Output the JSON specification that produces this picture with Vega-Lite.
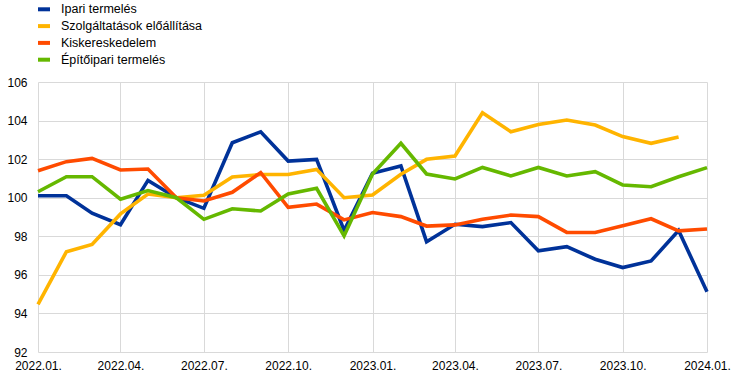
{
  "$schema": "https://vega.github.io/schema/vega-lite/v6.json",
  "width": 669,
  "height": 270,
  "autosize": "none",
  "padding": {"left": 38, "top": 82, "right": 37, "bottom": 25},
  "background": "white",
  "config": {
    "view": {"stroke": null},
    "font": "Liberation Sans",
    "axis": {"labelFont": "Liberation Sans", "labelFontSize": 12, "labelColor": "#000000", "gridColor": "#d9d9d9", "gridWidth": 1, "domain": false, "ticks": false}
  },
  "data": {
    "values": [
      {"date": "2022-01-01", "series": "Ipari termelés", "value": 100.1},
      {"date": "2022-02-01", "series": "Ipari termelés", "value": 100.1},
      {"date": "2022-03-01", "series": "Ipari termelés", "value": 99.2},
      {"date": "2022-04-01", "series": "Ipari termelés", "value": 98.6},
      {"date": "2022-05-01", "series": "Ipari termelés", "value": 100.9},
      {"date": "2022-06-01", "series": "Ipari termelés", "value": 100.0},
      {"date": "2022-07-01", "series": "Ipari termelés", "value": 99.45},
      {"date": "2022-08-01", "series": "Ipari termelés", "value": 102.85},
      {"date": "2022-09-01", "series": "Ipari termelés", "value": 103.42},
      {"date": "2022-10-01", "series": "Ipari termelés", "value": 101.9},
      {"date": "2022-11-01", "series": "Ipari termelés", "value": 101.99},
      {"date": "2022-12-01", "series": "Ipari termelés", "value": 98.3},
      {"date": "2023-01-01", "series": "Ipari termelés", "value": 101.27},
      {"date": "2023-02-01", "series": "Ipari termelés", "value": 101.65},
      {"date": "2023-03-01", "series": "Ipari termelés", "value": 97.72},
      {"date": "2023-04-01", "series": "Ipari termelés", "value": 98.62},
      {"date": "2023-05-01", "series": "Ipari termelés", "value": 98.5},
      {"date": "2023-06-01", "series": "Ipari termelés", "value": 98.71},
      {"date": "2023-07-01", "series": "Ipari termelés", "value": 97.25},
      {"date": "2023-08-01", "series": "Ipari termelés", "value": 97.46},
      {"date": "2023-09-01", "series": "Ipari termelés", "value": 96.81},
      {"date": "2023-10-01", "series": "Ipari termelés", "value": 96.38},
      {"date": "2023-11-01", "series": "Ipari termelés", "value": 96.72},
      {"date": "2023-12-01", "series": "Ipari termelés", "value": 98.3},
      {"date": "2024-01-01", "series": "Ipari termelés", "value": 95.13},

      {"date": "2022-01-01", "series": "Szolgáltatások előállítása", "value": 94.47},
      {"date": "2022-02-01", "series": "Szolgáltatások előállítása", "value": 97.2},
      {"date": "2022-03-01", "series": "Szolgáltatások előállítása", "value": 97.58},
      {"date": "2022-04-01", "series": "Szolgáltatások előállítása", "value": 99.16},
      {"date": "2022-05-01", "series": "Szolgáltatások előállítása", "value": 100.19},
      {"date": "2022-06-01", "series": "Szolgáltatások előállítása", "value": 100.0},
      {"date": "2022-07-01", "series": "Szolgáltatások előállítása", "value": 100.13},
      {"date": "2022-08-01", "series": "Szolgáltatások előállítása", "value": 101.08},
      {"date": "2022-09-01", "series": "Szolgáltatások előállítása", "value": 101.2},
      {"date": "2022-10-01", "series": "Szolgáltatások előállítása", "value": 101.2},
      {"date": "2022-11-01", "series": "Szolgáltatások előállítása", "value": 101.47},
      {"date": "2022-12-01", "series": "Szolgáltatások előállítása", "value": 100.0},
      {"date": "2023-01-01", "series": "Szolgáltatások előállítása", "value": 100.14},
      {"date": "2023-02-01", "series": "Szolgáltatások előállítása", "value": 101.22},
      {"date": "2023-03-01", "series": "Szolgáltatások előállítása", "value": 101.99},
      {"date": "2023-04-01", "series": "Szolgáltatások előállítása", "value": 102.16},
      {"date": "2023-05-01", "series": "Szolgáltatások előállítása", "value": 104.41},
      {"date": "2023-06-01", "series": "Szolgáltatások előállítása", "value": 103.42},
      {"date": "2023-07-01", "series": "Szolgáltatások előállítása", "value": 103.8},
      {"date": "2023-08-01", "series": "Szolgáltatások előállítása", "value": 104.03},
      {"date": "2023-09-01", "series": "Szolgáltatások előállítása", "value": 103.77},
      {"date": "2023-10-01", "series": "Szolgáltatások előállítása", "value": 103.17},
      {"date": "2023-11-01", "series": "Szolgáltatások előállítása", "value": 102.82},
      {"date": "2023-12-01", "series": "Szolgáltatások előállítása", "value": 103.15},

      {"date": "2022-01-01", "series": "Kiskereskedelem", "value": 101.4},
      {"date": "2022-02-01", "series": "Kiskereskedelem", "value": 101.87},
      {"date": "2022-03-01", "series": "Kiskereskedelem", "value": 102.04},
      {"date": "2022-04-01", "series": "Kiskereskedelem", "value": 101.44},
      {"date": "2022-05-01", "series": "Kiskereskedelem", "value": 101.49},
      {"date": "2022-06-01", "series": "Kiskereskedelem", "value": 100.0},
      {"date": "2022-07-01", "series": "Kiskereskedelem", "value": 99.83},
      {"date": "2022-08-01", "series": "Kiskereskedelem", "value": 100.28},
      {"date": "2022-09-01", "series": "Kiskereskedelem", "value": 101.3},
      {"date": "2022-10-01", "series": "Kiskereskedelem", "value": 99.5},
      {"date": "2022-11-01", "series": "Kiskereskedelem", "value": 99.67},
      {"date": "2022-12-01", "series": "Kiskereskedelem", "value": 98.85},
      {"date": "2023-01-01", "series": "Kiskereskedelem", "value": 99.23},
      {"date": "2023-02-01", "series": "Kiskereskedelem", "value": 99.02},
      {"date": "2023-03-01", "series": "Kiskereskedelem", "value": 98.53},
      {"date": "2023-04-01", "series": "Kiskereskedelem", "value": 98.59},
      {"date": "2023-05-01", "series": "Kiskereskedelem", "value": 98.88},
      {"date": "2023-06-01", "series": "Kiskereskedelem", "value": 99.1},
      {"date": "2023-07-01", "series": "Kiskereskedelem", "value": 99.02},
      {"date": "2023-08-01", "series": "Kiskereskedelem", "value": 98.2},
      {"date": "2023-09-01", "series": "Kiskereskedelem", "value": 98.2},
      {"date": "2023-10-01", "series": "Kiskereskedelem", "value": 98.54},
      {"date": "2023-11-01", "series": "Kiskereskedelem", "value": 98.91},
      {"date": "2023-12-01", "series": "Kiskereskedelem", "value": 98.28},
      {"date": "2024-01-01", "series": "Kiskereskedelem", "value": 98.38},

      {"date": "2022-01-01", "series": "Építőipari termelés", "value": 100.31},
      {"date": "2022-02-01", "series": "Építőipari termelés", "value": 101.09},
      {"date": "2022-03-01", "series": "Építőipari termelés", "value": 101.09},
      {"date": "2022-04-01", "series": "Építőipari termelés", "value": 99.92},
      {"date": "2022-05-01", "series": "Építőipari termelés", "value": 100.37},
      {"date": "2022-06-01", "series": "Építőipari termelés", "value": 100.0},
      {"date": "2022-07-01", "series": "Építőipari termelés", "value": 98.88},
      {"date": "2022-08-01", "series": "Építőipari termelés", "value": 99.43},
      {"date": "2022-09-01", "series": "Építőipari termelés", "value": 99.31},
      {"date": "2022-10-01", "series": "Építőipari termelés", "value": 100.19},
      {"date": "2022-11-01", "series": "Építőipari termelés", "value": 100.49},
      {"date": "2022-12-01", "series": "Építőipari termelés", "value": 98.02},
      {"date": "2023-01-01", "series": "Építőipari termelés", "value": 101.23},
      {"date": "2023-02-01", "series": "Építőipari termelés", "value": 102.82},
      {"date": "2023-03-01", "series": "Építőipari termelés", "value": 101.23},
      {"date": "2023-04-01", "series": "Építőipari termelés", "value": 100.97},
      {"date": "2023-05-01", "series": "Építőipari termelés", "value": 101.57},
      {"date": "2023-06-01", "series": "Építőipari termelés", "value": 101.13},
      {"date": "2023-07-01", "series": "Építőipari termelés", "value": 101.57},
      {"date": "2023-08-01", "series": "Építőipari termelés", "value": 101.13},
      {"date": "2023-09-01", "series": "Építőipari termelés", "value": 101.35},
      {"date": "2023-10-01", "series": "Építőipari termelés", "value": 100.66},
      {"date": "2023-11-01", "series": "Építőipari termelés", "value": 100.57},
      {"date": "2023-12-01", "series": "Építőipari termelés", "value": 101.09},
      {"date": "2024-01-01", "series": "Építőipari termelés", "value": 101.56}
    ]
  },
  "mark": {"type": "line", "strokeWidth": 3.6, "strokeJoin": "miter", "strokeCap": "butt"},
  "encoding": {
    "x": {
      "field": "date",
      "timeUnit": "utcyearmonth",
      "type": "temporal",
      "scale": {"domain": [{"year": 2022, "month": 1, "date": 1, "utc": true}, {"year": 2024, "month": 1, "date": 1, "utc": true}], "nice": false},
      "axis": {"title": null, "format": "%Y.%m.", "tickCount": {"interval": "month", "step": 3}, "labelPadding": 8, "labelFlush": false, "labelOverlap": false, "labelAlign": "center"}
    },
    "y": {
      "field": "value",
      "type": "quantitative",
      "scale": {"domain": [92, 106], "nice": false, "zero": false},
      "axis": {"title": null, "values": [92, 94, 96, 98, 100, 102, 104, 106], "labelPadding": 11}
    },
    "color": {
      "field": "series",
      "type": "nominal",
      "sort": null,
      "scale": {
        "domain": ["Ipari termelés", "Szolgáltatások előállítása", "Kiskereskedelem", "Építőipari termelés"],
        "range": ["#003299", "#FFB400", "#FF4B00", "#65B800"]
      },
      "legend": {
        "title": null,
        "orient": "none",
        "legendX": -2,
        "legendY": -80.7,
        "padding": 0,
        "symbolType": "stroke",
        "symbolStrokeWidth": 4,
        "symbolSize": 144,
        "labelFont": "Liberation Sans",
        "labelFontSize": 12.5,
        "labelColor": "#000000",
        "labelOffset": 9,
        "rowPadding": 0.8
      }
    },
    "order": {"field": "series"}
  }
}
